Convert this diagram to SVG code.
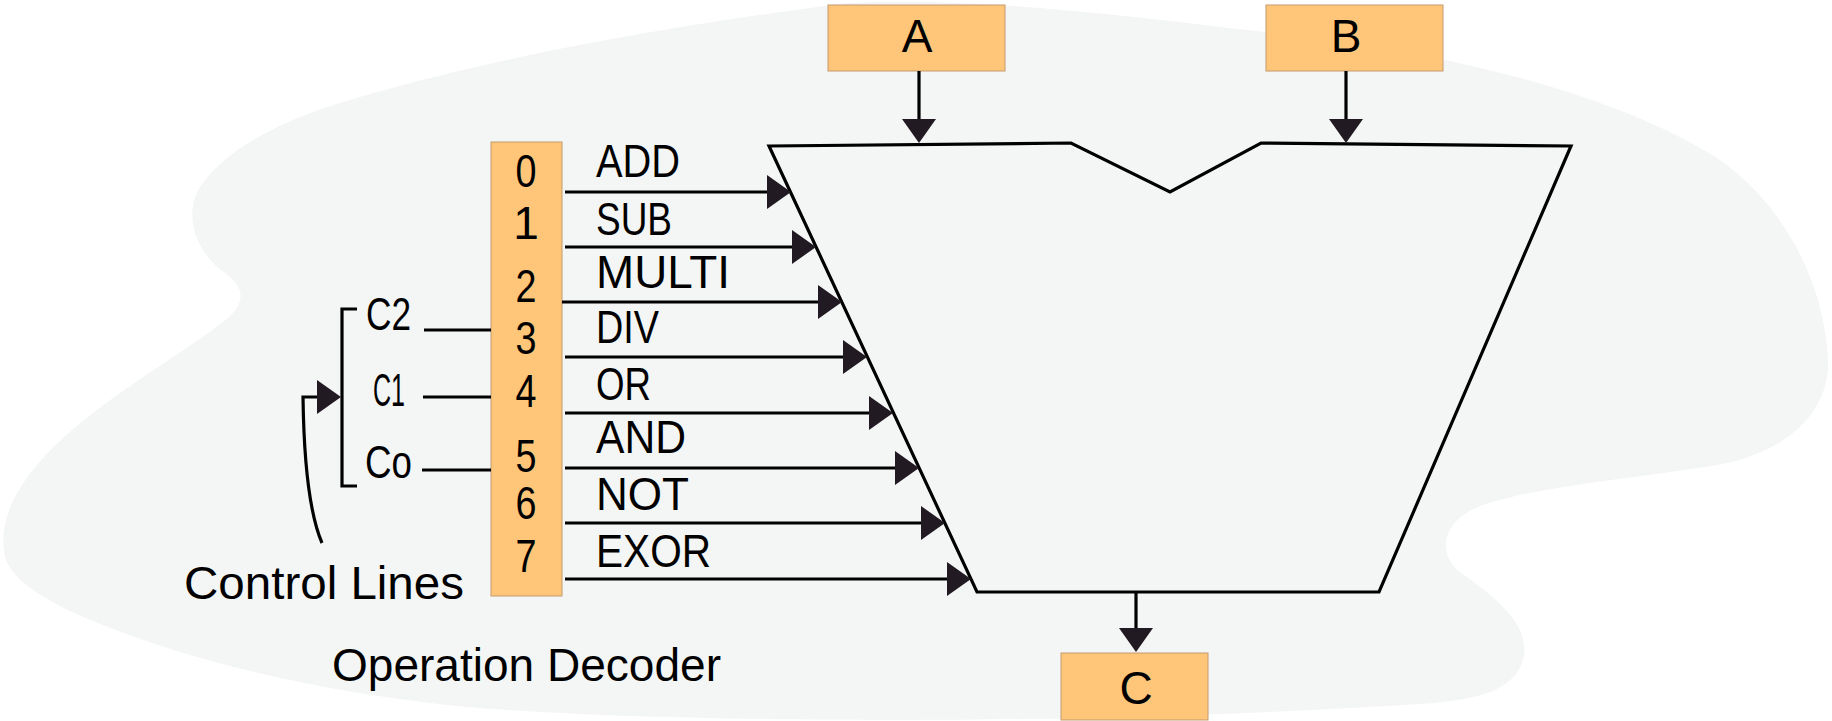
<svg xmlns="http://www.w3.org/2000/svg" width="1832" height="721" viewBox="0 0 1832 721">
<style>
.t{font-family:"Liberation Sans",Arial,sans-serif;font-size:46px;fill:#000}
.box{fill:#ffc679;stroke:#c49a6c;stroke-width:1}
.ln{fill:none;stroke:#000;stroke-width:3.2}
</style>
<defs>
<marker id="ah" viewBox="0 0 24 34" markerWidth="24" markerHeight="34" refX="0" refY="17" markerUnits="userSpaceOnUse" orient="auto">
<path d="M0,0 L24,17 L0,34 Z" fill="#221a22"/>
</marker>
</defs>
<g id="background">
<path fill="#f4f6f5" d="M847,3 C980,-3 1120,15 1266,32 C1450,52 1620,95 1720,160 C1790,210 1825,290 1828,360 C1830,410 1790,455 1705,467 C1620,480 1530,488 1480,506 C1440,522 1438,555 1460,572 C1500,600 1528,625 1524,655 C1518,690 1480,700 1420,704 C1300,712 1100,720 900,720 C700,720 560,715 467,707 C360,697 250,675 164,647 C90,622 20,595 6,560 C-6,520 20,470 88,417 C130,383 195,345 228,318 C248,300 242,285 225,273 C195,252 183,215 200,187 C225,150 280,120 350,100 C450,70 600,35 847,3 Z"/>
</g>
<g id="alu">
<path class="ln" stroke-width="3" d="M769,146 L1071,143 L1170,192 L1261,143 L1571,146 L1379,592 L977,592 Z"/>
</g>
<g id="box-A">
<rect class="box" x="828" y="5" width="177" height="66"/>
<text class="t" x="917" y="52" text-anchor="middle">A</text>
</g>
<g id="box-B">
<rect class="box" x="1266" y="5" width="177" height="66"/>
<text class="t" x="1346" y="52" text-anchor="middle">B</text>
</g>
<g id="box-C">
<rect class="box" x="1061" y="653" width="147" height="67"/>
<text class="t" x="1136" y="704" text-anchor="middle">C</text>
</g>
<g id="decoder">
<rect class="box" x="491" y="142" width="71" height="454"/>
<text class="t" x="526" y="187" text-anchor="middle" textLength="21" lengthAdjust="spacingAndGlyphs">0</text>
<text class="t" x="526" y="239" text-anchor="middle">1</text>
<text class="t" x="526" y="302" text-anchor="middle" textLength="21" lengthAdjust="spacingAndGlyphs">2</text>
<text class="t" x="526" y="354" text-anchor="middle" textLength="21" lengthAdjust="spacingAndGlyphs">3</text>
<text class="t" x="526" y="407" text-anchor="middle" textLength="21" lengthAdjust="spacingAndGlyphs">4</text>
<text class="t" x="526" y="472" text-anchor="middle" textLength="21" lengthAdjust="spacingAndGlyphs">5</text>
<text class="t" x="526" y="519" text-anchor="middle" textLength="21" lengthAdjust="spacingAndGlyphs">6</text>
<text class="t" x="526" y="572" text-anchor="middle" textLength="21" lengthAdjust="spacingAndGlyphs">7</text>
</g>
<g id="operation-labels">
<text class="t" x="596" y="177" textLength="84" lengthAdjust="spacingAndGlyphs">ADD</text>
<text class="t" x="596" y="235" textLength="76" lengthAdjust="spacingAndGlyphs">SUB</text>
<text class="t" x="596" y="288" textLength="134" lengthAdjust="spacingAndGlyphs">MULTI</text>
<text class="t" x="596" y="343" textLength="63" lengthAdjust="spacingAndGlyphs">DIV</text>
<text class="t" x="596" y="400" textLength="55" lengthAdjust="spacingAndGlyphs">OR</text>
<text class="t" x="596" y="453" textLength="90" lengthAdjust="spacingAndGlyphs">AND</text>
<text class="t" x="596" y="510" textLength="93" lengthAdjust="spacingAndGlyphs">NOT</text>
<text class="t" x="596" y="567" textLength="115" lengthAdjust="spacingAndGlyphs">EXOR</text>
</g>
<g id="control-labels">
<text class="t" x="366" y="330" font-size="38" textLength="45" lengthAdjust="spacingAndGlyphs">C2</text>
<text class="t" x="373" y="406" font-size="44" textLength="32" lengthAdjust="spacingAndGlyphs">C1</text>
<text class="t" x="365" y="478" font-size="46" textLength="47" lengthAdjust="spacingAndGlyphs">Co</text>
<text class="t" x="184" y="599" textLength="280" lengthAdjust="spacingAndGlyphs">Control Lines</text>
<text class="t" x="332" y="681" textLength="389" lengthAdjust="spacingAndGlyphs">Operation Decoder</text>
</g>
<g id="connectors">
<path class="ln" d="M919,71 V119" marker-end="url(#ah)"/>
<path class="ln" d="M1346,71 V119" marker-end="url(#ah)"/>
<path class="ln" d="M1136,592 V628" marker-end="url(#ah)"/>
<path class="ln" d="M565,192 H767" marker-end="url(#ah)"/>
<path class="ln" d="M565,247 H792" marker-end="url(#ah)"/>
<path class="ln" d="M562,302 H818" marker-end="url(#ah)"/>
<path class="ln" d="M565,357 H843" marker-end="url(#ah)"/>
<path class="ln" d="M565,413 H869" marker-end="url(#ah)"/>
<path class="ln" d="M565,468 H895" marker-end="url(#ah)"/>
<path class="ln" d="M565,523 H921" marker-end="url(#ah)"/>
<path class="ln" d="M565,579 H947" marker-end="url(#ah)"/>
<path class="ln" d="M424,330 H491"/>
<path class="ln" d="M423,397 H491"/>
<path class="ln" d="M422,470 H491"/>
<path class="ln" d="M357,309 H342 V486 H357"/>
<path class="ln" d="M322,543 C310,515 304,470 303,397 H317" marker-end="url(#ah)"/>
</g>
</svg>
